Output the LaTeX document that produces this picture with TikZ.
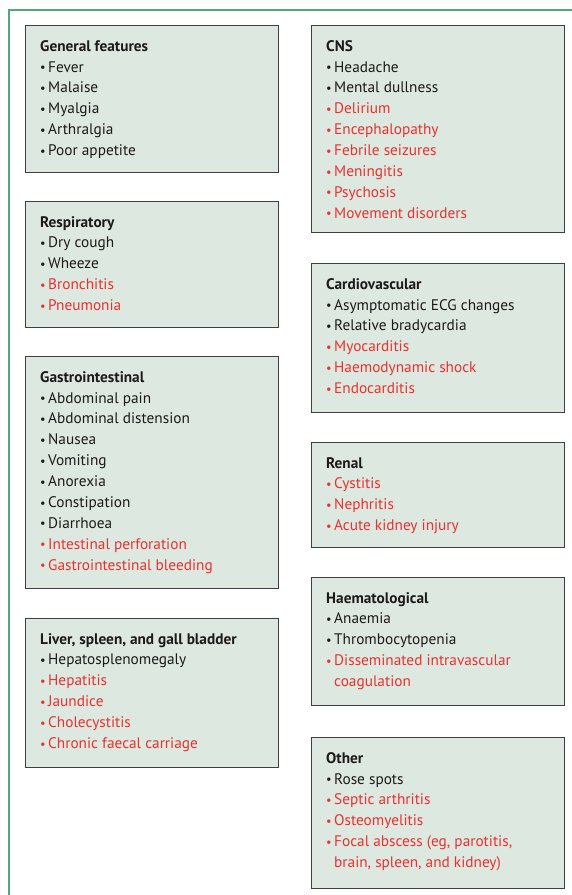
\documentclass[tikz,border=0pt]{standalone}
\usepackage{fontspec}
\setmainfont{PT Sans}
\definecolor{boxfill}{HTML}{DCE8E0}
\definecolor{boxline}{HTML}{3F3F3F}
\definecolor{framegreen}{HTML}{4FA97C}
\definecolor{sred}{HTML}{E8322F}
\definecolor{stxt}{HTML}{1E1A1B}
\newcommand{\bb}{\makebox[8pt][l]{\raisebox{0.5pt}{\scalebox{0.8}{•}}}}
\newcommand{\rl}[1]{\textcolor{sred}{\bb #1}}
\newcommand{\bl}[1]{\bb #1}
\newcommand{\rc}[1]{\textcolor{sred}{\hspace*{8pt}#1}}
\tikzset{
  sbox/.style={draw=boxline, line width=1.2pt, fill=boxfill, anchor=north west,
    inner sep=0pt, minimum width=253pt},
  stext/.style={anchor=north west, inner sep=0pt, align=left,
    font=\fontsize{15.3}{20.9}\selectfont, text=stxt},
  frameline/.style={draw=framegreen, line width=1.2pt}
}
\begin{document}
\begin{tikzpicture}[x=1pt,y=-1pt]
\useasboundingbox (0,0) rectangle (572,895);
\coordinate (fb) at (9,895);
\coordinate (ft) at (9,10);
\coordinate (fr) at (572,10);
\draw[frameline] (fb) -- (ft) -- (fr);

% left column
\node[sbox, minimum height=147pt] (gf) at (25,25) {};
\node[stext] (gft) at ([xshift=15pt,yshift=-15pt]gf.north west)
 {\textbf{General features}\\ \bl{Fever}\\ \bl{Malaise}\\ \bl{Myalgia}\\ \bl{Arthralgia}\\ \bl{Poor appetite}};

\node[sbox, minimum height=126pt] (rs) at (25,201) {};
\node[stext] (rst) at ([xshift=15pt,yshift=-15pt]rs.north west)
 {\textbf{Respiratory}\\ \bl{Dry cough}\\ \bl{Wheeze}\\ \rl{Bronchitis}\\ \rl{Pneumonia}};

\node[sbox, minimum height=232pt] (gi) at (25,356) {};
\node[stext] (git) at ([xshift=15pt,yshift=-15pt]gi.north west)
 {\textbf{Gastrointestinal}\\ \bl{Abdominal pain}\\ \bl{Abdominal distension}\\ \bl{Nausea}\\ \bl{Vomiting}\\ \bl{Anorexia}\\ \bl{Constipation}\\ \bl{Diarrhoea}\\ \rl{Intestinal perforation}\\ \rl{Gastrointestinal bleeding}};

\node[sbox, minimum height=149pt] (lv) at (25,618) {};
\node[stext] (lvt) at ([xshift=15pt,yshift=-15pt]lv.north west)
 {\textbf{Liver, spleen, and gall bladder}\\ \bl{Hepatosplenomegaly}\\ \rl{Hepatitis}\\ \rl{Jaundice}\\ \rl{Cholecystitis}\\ \rl{Chronic faecal carriage}};

% right column
\node[sbox, minimum height=207pt] (cn) at (311,25) {};
\node[stext] (cnt) at ([xshift=15pt,yshift=-15pt]cn.north west)
 {\textbf{CNS}\\ \bl{Headache}\\ \bl{Mental dullness}\\ \rl{Delirium}\\ \rl{Encephalopathy}\\ \rl{Febrile seizures}\\ \rl{Meningitis}\\ \rl{Psychosis}\\ \rl{Movement disorders}};

\node[sbox, minimum height=149pt] (cv) at (311,263) {};
\node[stext] (cvt) at ([xshift=15pt,yshift=-15pt]cv.north west)
 {\textbf{Cardiovascular}\\ \bl{Asymptomatic ECG changes}\\ \bl{Relative bradycardia}\\ \rl{Myocarditis}\\ \rl{Haemodynamic shock}\\ \rl{Endocarditis}};

\node[sbox, minimum height=105pt] (rn) at (311,442) {};
\node[stext] (rnt) at ([xshift=15pt,yshift=-15pt]rn.north west)
 {\textbf{Renal}\\ \rl{Cystitis}\\ \rl{Nephritis}\\ \rl{Acute kidney injury}};

\node[sbox, minimum height=128pt] (hm) at (311,577) {};
\node[stext] (hmt) at ([xshift=15pt,yshift=-15pt]hm.north west)
 {\textbf{Haematological}\\ \bl{Anaemia}\\ \bl{Thrombocytopenia}\\ \rl{Disseminated intravascular}\\ \rc{coagulation}};

\node[sbox, minimum height=151pt] (ot) at (311,737) {};
\node[stext] (ott) at ([xshift=15pt,yshift=-15pt]ot.north west)
 {\textbf{Other}\\ \bl{Rose spots}\\ \rl{Septic arthritis}\\ \rl{Osteomyelitis}\\ \rl{Focal abscess (eg, parotitis,}\\ \rc{brain, spleen, and kidney)}};
\end{tikzpicture}
\end{document}
